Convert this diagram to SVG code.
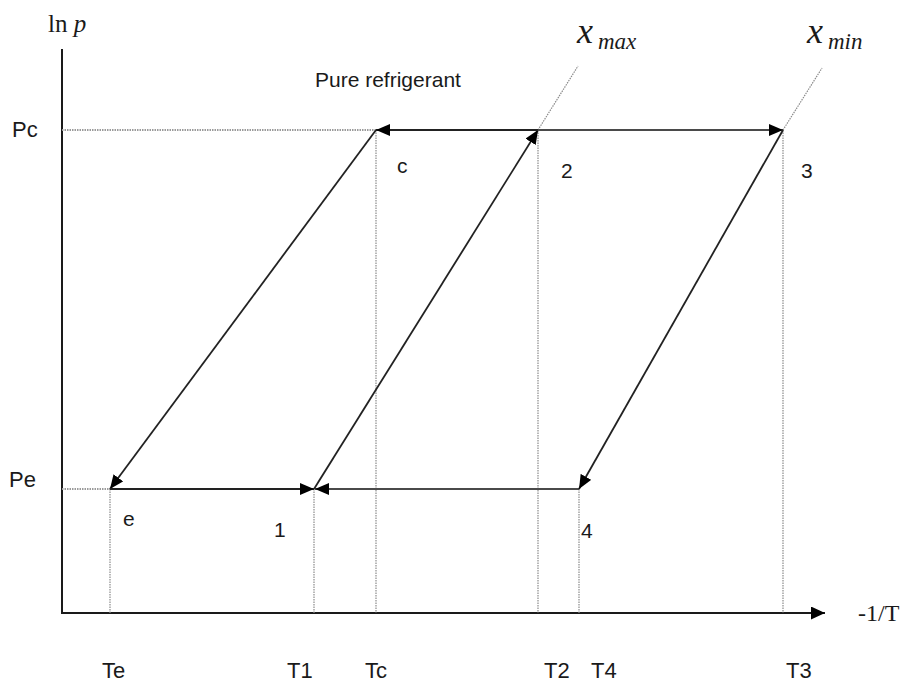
<svg xmlns="http://www.w3.org/2000/svg" width="905" height="684" viewBox="0 0 905 684">
<style>
.lbl{font-family:"Liberation Sans",Arial,sans-serif;font-size:21px;fill:#1a1a1a}
.big{font-family:"Liberation Sans",Arial,sans-serif;font-size:22px;fill:#1a1a1a}
.ser{font-family:"Liberation Serif","Times New Roman",serif;fill:#1a1a1a}
.axis{stroke:#1a1a1a;stroke-width:2;fill:none}
.guide{stroke:#8a8a8a;stroke-width:1.2;stroke-dasharray:1.5 1;fill:none}
.hguide{stroke:#9a9a9a;stroke-width:2;stroke-dasharray:1.5 1;fill:none}
.arrow{stroke:#222;stroke-width:1.8;fill:none;marker-end:url(#arr)}
.arrowg{stroke:#4a4a4a;stroke-width:2.2;fill:none;marker-end:url(#arr)}
</style>
<defs>
<marker id="arr" viewBox="0 0 14 12" refX="14" refY="6" markerWidth="14" markerHeight="12" markerUnits="userSpaceOnUse" orient="auto">
<path d="M0,0 L14,6 L0,12 z" fill="#000"/>
</marker>
<marker id="axarr" viewBox="0 0 14 13" refX="14" refY="6.5" markerWidth="14" markerHeight="13" markerUnits="userSpaceOnUse" orient="auto">
<path d="M0,0 L14,6.5 L0,13 z" fill="#000"/>
</marker>
</defs>
<rect width="905" height="684" fill="#fff"/>

<g id="axes">
<line class="axis" x1="62" y1="49" x2="62" y2="613"/>
<line class="axis" x1="61" y1="613" x2="825" y2="613" style="marker-end:url(#axarr)"/>
<text class="ser" x="48" y="32" font-size="25">ln <tspan font-style="italic">p</tspan></text>
<text class="ser" x="858" y="621" font-size="24">-1/T</text>
</g>

<g id="guides">
<line class="hguide" x1="62" y1="130" x2="376" y2="130"/>
<line class="hguide" x1="62" y1="489" x2="110" y2="489"/>
<line class="guide" x1="110" y1="489" x2="110" y2="613"/>
<line class="guide" x1="314" y1="489" x2="314" y2="613"/>
<line class="guide" x1="376" y1="130" x2="376" y2="613"/>
<line class="guide" x1="538" y1="130" x2="538" y2="613"/>
<line class="guide" x1="579" y1="489" x2="579" y2="613"/>
<line class="guide" x1="783" y1="130" x2="783" y2="613"/>
<line class="guide" x1="538" y1="130" x2="578" y2="66"/>
<line class="guide" x1="783" y1="130" x2="822" y2="68"/>
</g>

<g id="connectors">
<line class="arrow" x1="376" y1="130" x2="110" y2="489"/>
<line class="arrow" x1="110" y1="489" x2="314" y2="489"/>
<line class="arrowg" x1="579" y1="489" x2="315" y2="489"/>
<line class="arrow" x1="314" y1="489" x2="538" y2="130"/>
<line class="arrow" x1="538" y1="130" x2="376" y2="130"/>
<line class="arrowg" x1="538" y1="130" x2="783" y2="130"/>
<line class="arrow" x1="783" y1="130" x2="579" y2="489"/>
</g>

<g id="node-c"><text class="lbl" x="397" y="173">c</text></g>
<g id="node-2"><text class="lbl" x="561" y="178">2</text></g>
<g id="node-3"><text class="lbl" x="801" y="178">3</text></g>
<g id="node-e"><text class="lbl" x="123" y="526">e</text></g>
<g id="node-1"><text class="lbl" x="274" y="537">1</text></g>
<g id="node-4"><text class="lbl" x="581" y="538">4</text></g>

<g id="pressure-labels">
<text class="big" x="12" y="137">Pc</text>
<text class="big" x="9" y="487">Pe</text>
</g>

<g id="temperature-labels">
<text class="big" x="102" y="678">Te</text>
<text class="big" x="287" y="678">T1</text>
<text class="big" x="365" y="678">Tc</text>
<text class="big" x="544" y="678">T2</text>
<text class="big" x="591" y="678">T4</text>
<text class="big" x="786" y="678">T3</text>
</g>

<g id="curve-labels">
<text class="lbl" x="315" y="87" font-size="23">Pure refrigerant</text>
<text class="ser" x="577" y="43" font-size="36" font-style="italic">x</text>
<text class="ser" x="598" y="49" font-size="23" font-style="italic">max</text>
<text class="ser" x="807" y="43" font-size="36" font-style="italic">x</text>
<text class="ser" x="828" y="49" font-size="23" font-style="italic">min</text>
</g>
</svg>
